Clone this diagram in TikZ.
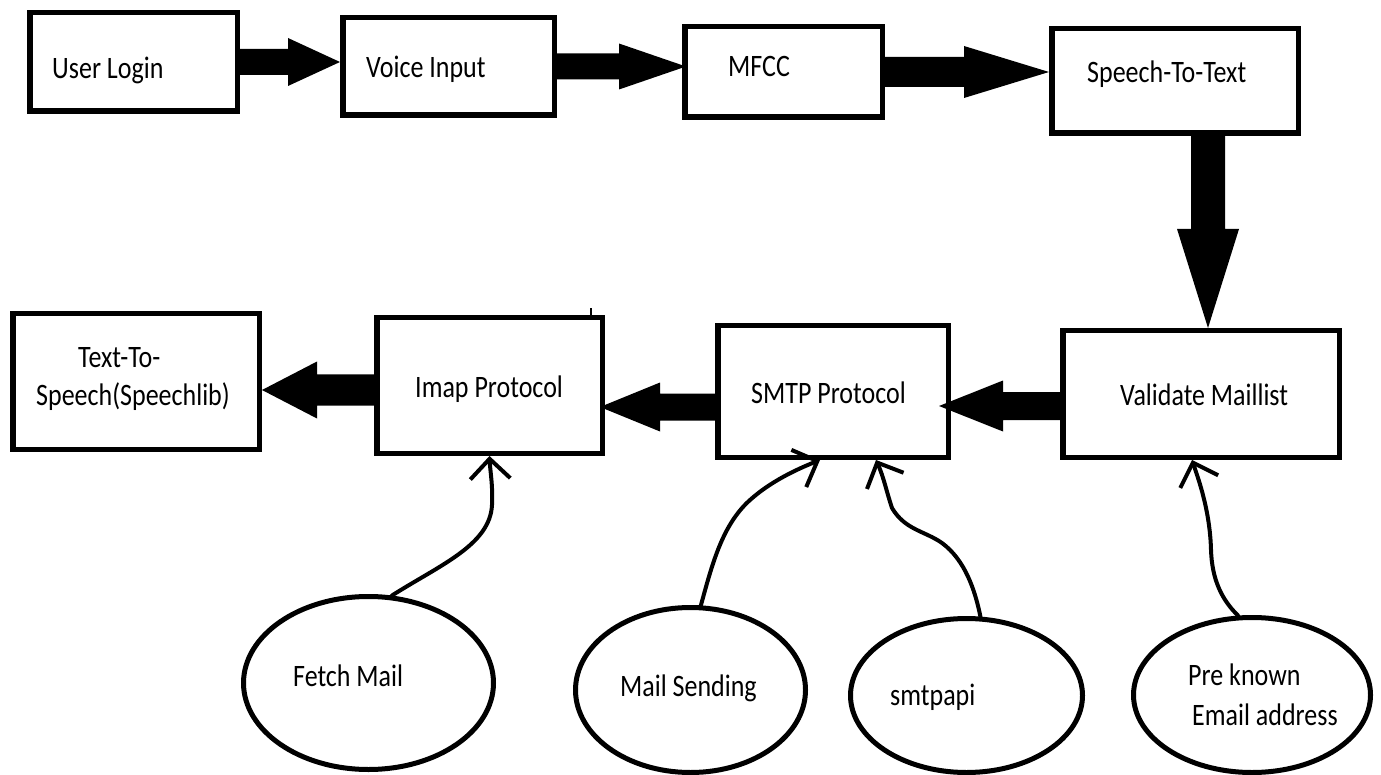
\documentclass[tikz,border=0pt]{standalone}
\usepackage{fontspec}
\setmainfont{Carlito}
\usepackage{graphicx}
\usetikzlibrary{calc,arrows.meta,shapes.geometric}
\newcommand\vtxt[1]{\scalebox{1}[1.2]{#1}}
% block arrow: #1 start, #2 tip, #3 shaft half width, #4 head half width, #5 head length
\newcommand\blockarr[5]{%
  \coordinate (ba-s) at (#1);
  \coordinate (ba-t) at (#2);
  \coordinate (ba-h) at ($(ba-t)!#5!(ba-s)$);
  \fill ($(ba-s)!#3!90:(ba-t)$) -- ($(ba-h)!#3!90:(ba-t)$) -- ($(ba-h)!#4!90:(ba-t)$) -- (ba-t)
     -- ($(ba-h)!#4!-90:(ba-t)$) -- ($(ba-h)!#3!-90:(ba-t)$) -- ($(ba-s)!#3!-90:(ba-t)$) -- cycle;
}
\begin{document}
\begin{tikzpicture}[x=1pt,y=-1pt,
  box/.style={draw, line width=5.5pt, inner sep=0pt},
  ell/.style={draw, ellipse, line width=5pt, inner sep=0pt},
  lbl/.style={anchor=base west, inner sep=0pt, font=\fontsize{26}{30}\selectfont},
  conn/.style={line width=4pt, line cap=round, -{Straight Barb[length=20pt,width=40pt]}}]
\useasboundingbox (0,0) rectangle (1381,775);

% boxes
\node[box, minimum width=207.5pt, minimum height=98.5pt] (UL) at (133.5,62) {};
\node[box, minimum width=211.5pt, minimum height=97.5pt] (VI) at (448.5,66.5) {};
\node[box, minimum width=197.5pt, minimum height=90.5pt] (MFCC) at (783.5,72) {};
\node[box, minimum width=246.5pt, minimum height=104.5pt] (STT) at (1175,81) {};
\node[box, minimum width=276.5pt, minimum height=126.5pt] (V) at (1201,394) {};
\node[box, minimum width=230.5pt, minimum height=131.5pt] (SMTP) at (833,391.5) {};
\node[box, minimum width=225.5pt, minimum height=135.5pt] (Imap) at (489.5,385.5) {};
\node[box, minimum width=246.5pt, minimum height=135.5pt] (TTS) at (136,381.5) {};

% ellipses
\node[ell, minimum width=250pt, minimum height=173pt] (F) at (368.5,683) {};
\node[ell, minimum width=230pt, minimum height=165pt] (M) at (690.5,690) {};
\node[ell, minimum width=232pt, minimum height=154pt] (S) at (966.5,695.5) {};
\node[ell, minimum width=237pt, minimum height=155pt] (P) at (1252,695) {};

% texts
\node[lbl] (tUL) at (52,79) {\vtxt{User Login}};
\node[lbl] (tVI) at (366,78) {\vtxt{Voice Input}};
\node[lbl] (tMFCC) at (728,77) {\vtxt{MFCC}};
\node[lbl] (tSTT) at (1087,83) {\vtxt{Speech-To-Text}};
\node[lbl] (tTTSa) at (78,367) {\vtxt{Text-To-}};
\node[lbl] (tTTSb) at (36,405) {\vtxt{Speech(Speechlib)}};
\node[lbl] (tImap) at (415,397) {\vtxt{Imap Protocol}};
\node[lbl] (tSMTP) at (751,403) {\vtxt{SMTP Protocol}};
\node[lbl] (tV) at (1120,405) {\vtxt{Validate Maillist}};
\node[lbl] (tF) at (293,686) {\vtxt{Fetch Mail}};
\node[lbl] (tM) at (620,696) {\vtxt{Mail Sending}};
\node[lbl] (tS) at (890,705) {\vtxt{smtpapi}};
\node[lbl] (tPa) at (1188,685) {\vtxt{Pre known}};
\node[lbl] (tPb) at (1192,725) {\vtxt{Email address}};

% block arrows
\blockarr{UL.east}{UL.east -| VI.west}{13pt}{24pt}{52pt}
\blockarr{VI.east}{$(VI.east -| MFCC.west)+(4,0)$}{13pt}{23pt}{67pt}
\blockarr{MFCC.east}{MFCC.east -| STT.west}{15pt}{26pt}{85pt}
\blockarr{$(STT.south)+(33,0)$}{ba-s |- V.north}{17pt}{31pt}{99pt}
\blockarr{$(V.west)+(0,12)$}{$(ba-s -| SMTP.east)+(-12,0)$}{14pt}{25.5pt}{64pt}
\blockarr{$(SMTP.west)+(0,15.5)$}{$(ba-s -| Imap.east)+(-5,0)$}{13.5pt}{24.5pt}{60pt}
\blockarr{$(Imap.west)+(0,4.5)$}{ba-s -| TTS.east}{15.5pt}{28.5pt}{55pt}

% small tick on Imap box
\draw[line width=2pt] ($(Imap.north east)+(-14,0)$) -- ++(0,-7);

% curved connectors
\draw[conn] (F.75) .. controls (440,565) and (490,545) .. (492,505)
  .. controls (493,485) and (490,470) .. (Imap.south);
\draw[conn] (M.83) .. controls (712,565) and (722,525) .. (750,500)
  .. controls (770,482) and (795,470) .. ($(SMTP.south)+(-13,0)$);
\draw[conn] (S.80) .. controls (975,590) and (965,560) .. (942,543)
  .. controls (925,531) and (905,530) .. (892,508)
  .. controls (886,490) and (884,478) .. ($(SMTP.south)+(43,0)$);
\draw[conn] (P.100) .. controls (1222,600) and (1212,580) .. (1211,550)
  .. controls (1210,510) and (1198,478) .. ($(V.south)+(-9,0)$);
\end{tikzpicture}
\end{document}
